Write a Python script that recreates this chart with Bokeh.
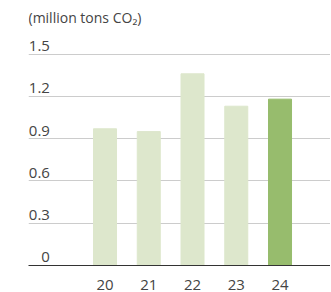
from bokeh.plotting import figure
from bokeh.models import ColumnDataSource, FixedTicker, Range1d
from bokeh.core.properties import value
from bokeh.embed import file_html
from bokeh.resources import INLINE

years = ["20", "21", "22", "23", "24"]
emissions = [0.97, 0.95, 1.36, 1.13, 1.18]
bar_colors = ["#dde7cc", "#dde7cc", "#dde7cc", "#dde7cc", "#97bc6d"]
y_ticks = [0, 0.3, 0.6, 0.9, 1.2, 1.5]
y_tick_labels = ["0", "0.3", "0.6", "0.9", "1.2", "1.5"]
unit_label = "(million tons CO\u2082)"

FONT = "Open Sans"
TEXT_COLOR = "#444444"

xs = list(range(len(years)))
src = ColumnDataSource(dict(x=xs, top=emissions, color=bar_colors))

p = figure(width=330, height=292, output_backend="svg", toolbar_location=None,
           x_range=Range1d(-1.749, 5.154), y_range=Range1d(0, 1.880),
           min_border_left=28, min_border_right=0, min_border_top=0, min_border_bottom=25)
p.outline_line_color = None
p.background_fill_color = "white"
p.border_fill_color = "white"

# gridlines
p.xgrid.visible = False
p.ygrid.grid_line_color = "#cccccc"
p.ygrid.grid_line_width = 1
p.ygrid.ticker = FixedTicker(ticks=y_ticks[1:])
p.yaxis.ticker = FixedTicker(ticks=y_ticks)
p.yaxis.visible = False

p.vbar(x="x", top="top", width=0.526, color="color", source=src)

# y tick labels, inside plot above gridlines
lab_src = ColumnDataSource(dict(x=[-1.26] * len(y_ticks), y=[t + 0.022 for t in y_ticks], text=y_tick_labels))
p.text(x="x", y="y", text="text", source=lab_src, text_align="right", text_baseline="bottom",
       text_font=value(FONT), text_font_size="15px", text_color=TEXT_COLOR)

# unit label
p.text(x=[-1.749], y=[1.695], text=[unit_label], text_align="left", text_baseline="bottom",
       text_font=value(FONT), text_font_size="14px", text_color=TEXT_COLOR)

# x axis
p.xaxis.ticker = FixedTicker(ticks=xs)
p.xaxis.major_label_overrides = {i: y for i, y in zip(xs, years)}
p.xaxis.major_tick_line_color = None
p.xaxis.minor_tick_line_color = None
p.xaxis.axis_line_color = "#333333"
p.xaxis.axis_line_width = 1
p.xaxis.major_label_text_font = FONT
p.xaxis.major_label_text_font_size = "15px"
p.xaxis.major_label_text_color = TEXT_COLOR
p.xaxis.major_label_standoff = 8

open("out.html", "w").write(file_html(p, INLINE))
